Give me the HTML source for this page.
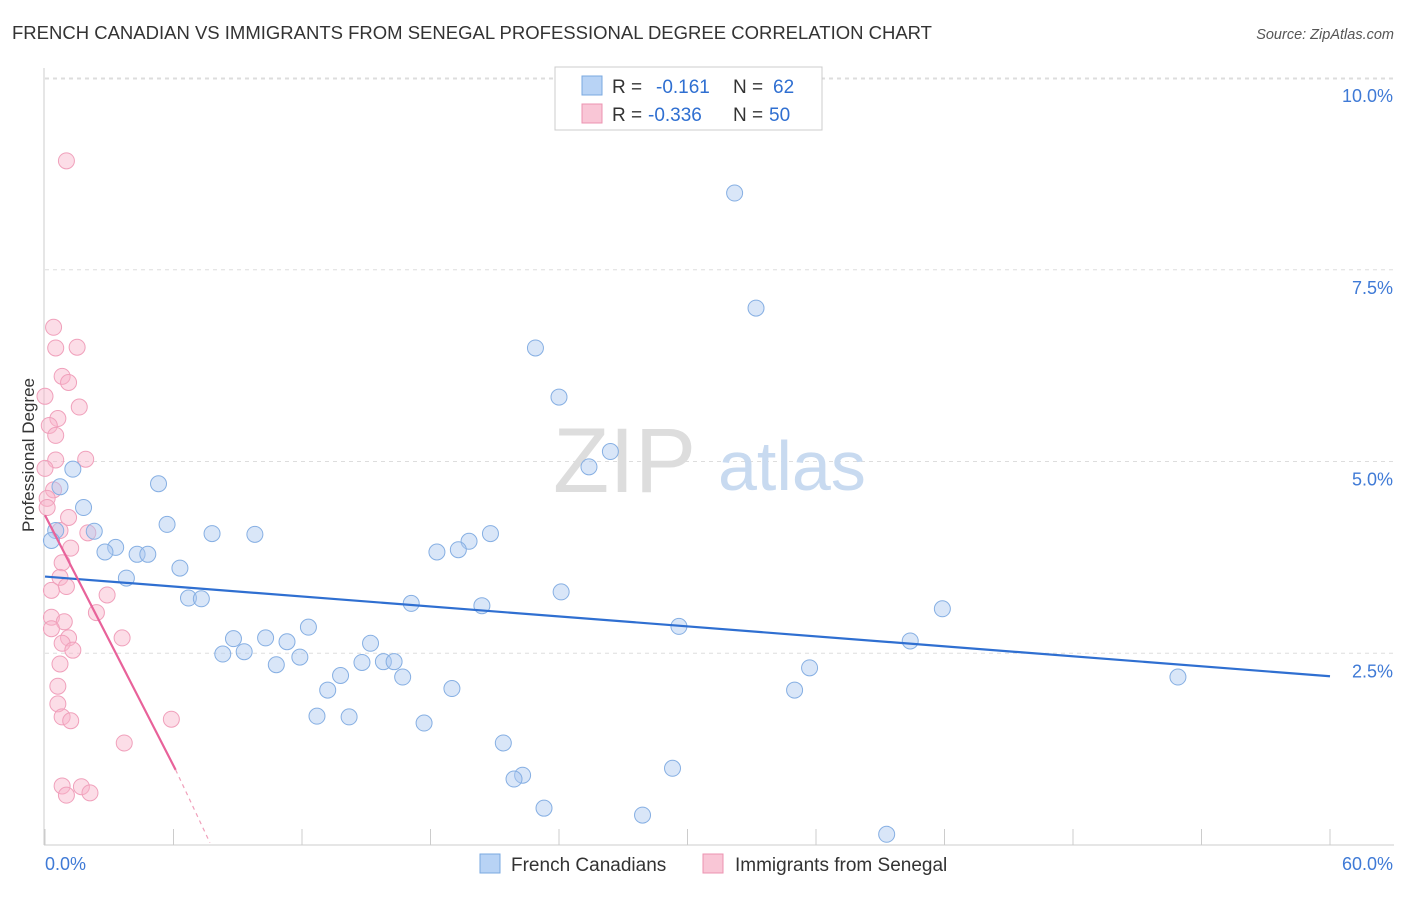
<!DOCTYPE html>
<html><head><meta charset="utf-8"><style>
body{margin:0;background:#fff;font-family:"Liberation Sans",sans-serif}
svg text{font-family:"Liberation Sans",sans-serif}
</style></head><body>
<svg width="1406" height="892">
<text x="12" y="39" font-size="18.5" fill="#333">FRENCH CANADIAN VS IMMIGRANTS FROM SENEGAL PROFESSIONAL DEGREE CORRELATION CHART</text>
<text x="1394" y="39" font-size="14.5" fill="#555" text-anchor="end" font-style="italic">Source: ZipAtlas.com</text>
<g id="grid"></g>
<g id="wm">
<text x="553" y="492" font-size="92" font-family="Liberation Serif,serif" fill="#ddd">ZIP</text>
<text x="718" y="490" font-size="70" fill="#c8daf0">atlas</text>
</g>
<text transform="translate(34,455) rotate(-90)" font-size="17" fill="#333" text-anchor="middle">Professional Degree</text>
<g id="pts"></g>
<g id="legend">
<rect x="555" y="67" width="267" height="63" fill="#fff" stroke="#ccc"/>
<rect x="582" y="76" width="20" height="19" fill="#b8d3f5" stroke="#7aa8e0"/>
<rect x="582" y="104" width="20" height="19" fill="#f9c6d6" stroke="#ec93b0"/>
<text x="612" y="93" font-size="19" fill="#333">R = <tspan x="656" fill="#2f6fd1">-0.161</tspan><tspan x="733">N = </tspan><tspan x="773" fill="#2f6fd1">62</tspan></text>
<text x="612" y="121" font-size="19" fill="#333">R = <tspan x="648" fill="#2f6fd1">-0.336</tspan><tspan x="733">N = </tspan><tspan x="769" fill="#2f6fd1">50</tspan></text>
</g>
<g id="bottom-legend">
<rect x="480" y="854" width="20" height="19" fill="#b8d3f5" stroke="#7aa8e0"/>
<text x="511" y="871" font-size="19" fill="#333">French Canadians</text>
<rect x="703" y="854" width="20" height="19" fill="#f9c6d6" stroke="#ec93b0"/>
<text x="735" y="871" font-size="19" fill="#333">Immigrants from Senegal</text>
</g>
</svg>
<script>
const yTicks=[2.5,5,7.5,10];
const yTickLabels=["2.5%","5.0%","7.5%","10.0%"];
const blueX=[32.2,33.2,22.9,24,26.4,25.4,1.3,0.7,5.3,1.8,5.7,2.3,7.8,9.8,20.8,19.8,19.3,18.3,0.5,0.3,3.3,2.8,4.3,4.8,6.3,3.8,24.1,6.7,7.3,17.1,20.4,41.9,12.3,29.6,8.8,10.3,11.3,15.2,40.4,8.3,9.3,11.9,10.8,15.8,14.8,16.3,35.7,13.8,16.7,52.9,13.2,19,35,12.7,14.2,17.7,21.4,29.3,22.3,21.9,23.3,27.9,39.3];
const blueY=[8.5,7.0,6.48,5.84,5.13,4.93,4.9,4.67,4.71,4.4,4.18,4.09,4.06,4.05,4.06,3.96,3.85,3.82,4.1,3.97,3.88,3.82,3.79,3.79,3.61,3.48,3.3,3.22,3.21,3.15,3.12,3.08,2.84,2.85,2.69,2.7,2.65,2.63,2.66,2.49,2.52,2.45,2.35,2.39,2.38,2.39,2.31,2.21,2.19,2.19,2.02,2.04,2.02,1.68,1.67,1.59,1.33,1.0,0.91,0.86,0.48,0.39,0.14];
const pinkX=[1,0.4,0.5,1.5,0.8,1.1,0,1.6,0.6,0.2,0.5,1.9,0.5,0,0.4,0.1,1.1,0.7,2,1.2,0.8,0.7,1,0.3,2.9,2.4,0.3,0.9,0.3,1.1,3.6,0.8,1.3,0.7,0.6,0.6,0.8,1.2,5.9,3.7,0.8,1.7,1,2.1,0.1];
const pinkY=[8.92,6.75,6.48,6.49,6.11,6.03,5.85,5.71,5.56,5.47,5.34,5.03,5.02,4.91,4.63,4.52,4.27,4.1,4.07,3.87,3.68,3.49,3.37,3.32,3.26,3.03,2.97,2.91,2.82,2.7,2.7,2.63,2.54,2.36,2.07,1.84,1.67,1.62,1.64,1.33,0.77,0.76,0.65,0.68,4.4];
const blueTrend=[[0,3.5],[60,2.2]];
const pinkTrend=[[0,4.3],[6.1,0.98]];
const pinkDash=[[6.1,0.98],[7.7,0.03]];
const X0=45,X1=1330,Y0=845,PXY=76.7;
const sx=v=>X0+(X1-X0)*v/60, sy=v=>Y0-v*PXY;
const NS="http://www.w3.org/2000/svg";
function mk(t,a,p){const e=document.createElementNS(NS,t);for(const k in a)e.setAttribute(k,a[k]);p.appendChild(e);return e;}
const g=document.getElementById('grid');
yTicks.forEach((t,i)=>{
 const l=mk('line',{x1:45,x2:1394,y1:sy(t),y2:sy(t),stroke:'#ddd','stroke-dasharray':'4,4'},g);
 
 
 const tx=mk('text',{x:1393,y:sy(t)+24,'font-size':18,fill:'#3f7ad6','text-anchor':'end'},g);
 tx.textContent=yTickLabels[i];
 
 
});
const topLine=mk('line',{x1:45,x2:1394,y1:79,y2:79,stroke:'#ddd','stroke-dasharray':'4,4'},g);


const ya=mk('line',{x1:44,x2:44,y1:68,y2:845,stroke:'#ccc'},g);


const xa=mk('line',{x1:44,x2:1394,y1:845,y2:845,stroke:'#ccc'},g);


for(let i=0;i<=10;i++){const t=mk('line',{x1:sx(i*6),x2:sx(i*6),y1:829,y2:845,stroke:'#ccc'},g);
 
 }
const xl=mk('text',{x:45,y:870,'font-size':18,fill:'#3f7ad6'},g);xl.textContent='0.0%';


const xr=mk('text',{x:1393,y:870,'font-size':18,fill:'#3f7ad6','text-anchor':'end'},g);xr.textContent='60.0%';


const p=document.getElementById('pts');
pinkX.forEach((x,i)=>{const c=mk('circle',{cx:sx(x),cy:sy(pinkY[i]),r:8,fill:'rgba(248,180,202,0.45)',stroke:'#f0a0bb','stroke-width':1},p);
 
 });
blueX.forEach((x,i)=>{const c=mk('circle',{cx:sx(x),cy:sy(blueY[i]),r:8,fill:'rgba(170,200,240,0.45)',stroke:'#86afe3','stroke-width':1},p);
 
 });
const bl=mk('line',{x1:sx(blueTrend[0][0]),y1:sy(blueTrend[0][1]),x2:sx(blueTrend[1][0]),y2:sy(blueTrend[1][1]),stroke:'#2f6fd1','stroke-width':2.2},p);


const pl=mk('line',{x1:sx(pinkTrend[0][0]),y1:sy(pinkTrend[0][1]),x2:sx(pinkTrend[1][0]),y2:sy(pinkTrend[1][1]),stroke:'#e8629a','stroke-width':2.2},p);


const pd=mk('line',{x1:sx(pinkDash[0][0]),y1:sy(pinkDash[0][1]),x2:sx(pinkDash[1][0]),y2:sy(pinkDash[1][1]),stroke:'#f0a0bb','stroke-width':1.2,'stroke-dasharray':'4,4'},p);


</script>
</body></html>
